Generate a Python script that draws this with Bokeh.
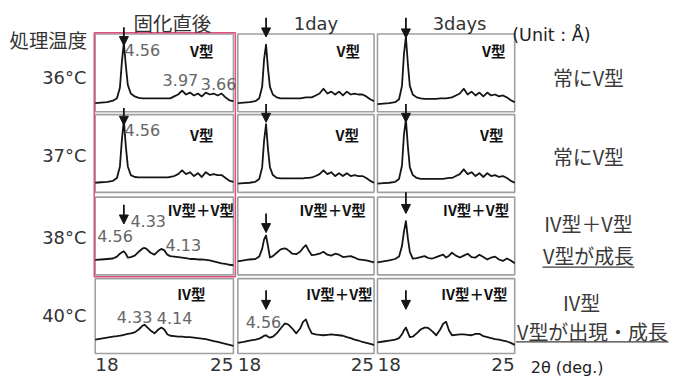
import math
from bokeh.plotting import figure
from bokeh.models import Range1d, Arrow, NormalHead
from bokeh.core.properties import value
from bokeh.embed import file_html
from bokeh.resources import INLINE

# ---------------- data ----------------
two_theta = [18.0, 18.3, 18.6, 18.9, 19.1, 19.25, 19.35, 19.45, 19.55, 19.65, 19.8,
             20.0, 20.2, 20.4, 20.5, 20.6, 20.8, 21.0, 21.2, 21.35, 21.5, 21.65, 21.8,
             22.0, 22.2, 22.4, 22.6, 22.8, 23.0, 23.2, 23.4, 23.6, 23.8,
             24.0, 24.2, 24.4, 24.6, 24.8, 25.0]

# intensity (a.u.) — 36 °C
int_36_0 = [9, 9.5, 10, 11.5, 14, 25, 52, 72, 48, 28, 19, 16, 14.5, 14, 14, 14, 14, 14, 14, 14, 14, 14, 14,
            16, 18, 22, 18, 20, 17, 19, 16, 20, 18, 19, 17, 19, 15, 12, 11]
int_36_1 = [9, 9.5, 10, 11, 14, 26, 55, 70, 45, 26, 18, 15, 14, 14, 14, 14, 14, 14, 14, 14.5, 15, 15, 15,
            17, 19, 24, 19, 21, 18, 21, 17, 21, 18, 19, 18, 18, 16, 13, 11]
int_36_3 = [8, 8.5, 9, 10, 13, 27, 60, 78, 50, 27, 18, 15, 14, 13.5, 13.5, 13.5, 13.5, 13.5, 14, 14, 14, 14.5, 15,
            17, 19, 24, 18, 21, 17, 20, 16, 20, 17, 18, 16, 17, 15, 12, 10]
# 37 °C
int_37_0 = [10, 10.5, 11, 12, 15, 27, 55, 75, 48, 27, 18, 16, 15.5, 15.5, 15.5, 15.5, 15.5, 15.5, 15.5, 15.5, 15.5, 15.5, 16,
            17, 19, 23, 19, 21, 17, 20, 16, 21, 18, 19, 18, 18, 15, 12, 11]
int_37_1 = [9, 9.5, 10, 11, 14, 26, 54, 71, 45, 26, 18, 15, 14.5, 14.5, 14.5, 14.5, 14.5, 14.5, 14.5, 14.5, 15, 15, 15.5,
            17, 19, 23, 19, 21, 17, 20, 17, 20, 17, 18, 17, 17, 15, 12, 10]
int_37_3 = [9, 9.5, 10, 11, 14, 28, 60, 76, 48, 26, 18, 15, 14, 14, 14, 14, 14, 14, 14, 14, 14.5, 15, 15,
            17, 19, 24, 19, 21, 17, 20, 16, 20, 17, 18, 16, 17, 15, 12, 10]
# 38 °C
int_38_0 = [15.5, 16, 16.5, 17, 19, 22, 23.5, 24.5, 22, 18, 18.5, 20, 24, 27.5, 28, 27, 23, 21, 25, 27, 25.5, 21, 19.5,
            19, 18.5, 18, 17.5, 16.5, 16.5, 16, 16, 15.5, 15, 14, 13, 12, 11.5, 10.5, 10]
int_38_1 = [14, 15, 16, 16.5, 19, 27, 37, 41, 30, 18, 19.5, 23, 26.5, 27.5, 27, 25.5, 22, 21.5, 24, 28, 31, 25, 20.5,
            21, 22, 24, 21, 20, 22, 21, 18.5, 19, 19.5, 18, 16, 15.5, 15, 14, 13]
int_38_3 = [13, 14, 15, 16.5, 19, 30, 45, 56, 38, 24, 17, 17.5, 18.5, 19.5, 18.5, 17.5, 17, 18.5, 20, 21, 18, 20, 23,
            20, 18, 20, 22, 18.5, 18, 21, 18.5, 16, 18, 19, 16, 14.5, 17, 15, 12]
# 40 °C
int_40_0 = [14.5, 15.5, 16.5, 17.5, 18, 18.5, 19, 19.5, 20, 20.5, 21, 22, 25, 29, 30, 28, 24, 21, 25, 27, 25, 20, 18.5,
            18, 17.5, 17.5, 17, 17, 16.5, 16, 15.5, 15, 14, 13, 12, 11, 10, 9, 8]
int_40_1 = [11, 12, 13.5, 14.5, 15.5, 17, 18.5, 19, 17.5, 16.5, 17.5, 21, 26, 31, 31, 30, 26, 21, 26, 33, 35.5, 27, 21,
            20, 19.5, 19, 19.5, 20, 19.5, 19, 18.5, 17, 16, 14.5, 13.5, 12, 11, 10, 9]
int_40_3 = [11.5, 12.5, 13.5, 14.5, 16, 20, 24, 27, 22, 17, 17.5, 21, 25, 27, 27, 26.5, 23, 19, 25, 31, 33, 24, 19,
            19.5, 20, 20, 19.5, 19, 20.5, 20.5, 18, 17, 16, 15, 14.5, 13.5, 12.5, 11, 9]

patterns = [[int_36_0, int_36_1, int_36_3],
            [int_37_0, int_37_1, int_37_3],
            [int_38_0, int_38_1, int_38_3],
            [int_40_0, int_40_1, int_40_3]]

row_labels = ["36°C", "37°C", "38°C", "40°C"]
col_labels = ["固化直後", "1day", "3days"]
phase_labels = [["V型", "V型", "V型"],
                ["V型", "V型", "V型"],
                ["IV型＋V型", "IV型＋V型", "IV型＋V型"],
                ["IV型", "IV型＋V型", "IV型＋V型"]]
summary_labels = [["常にV型"], ["常にV型"], ["IV型＋V型", "V型が成長"], ["IV型", "V型が出現・成長"]]
tick_values = [18, 25]
v_peak_d = 4.56        # Å, marked with arrows
cu_wavelength = 1.5406  # Å
arrow_panels = [(0, 0), (0, 1), (0, 2), (1, 0), (1, 1), (1, 2),
                (2, 0), (2, 1), (2, 2), (3, 1), (3, 2)]
peak_labels = {(0, 0): ["4.56", "3.97", "3.66"],
               (1, 0): ["4.56"],
               (2, 0): ["4.33", "4.56", "4.13"],
               (3, 0): ["4.33", "4.14"],
               (3, 1): ["4.56"]}

# ---------------- layout ----------------
W, H = 669, 376
REF_W, REF_H = 685, 392
FS = 0.97
JP = "Noto Sans CJK JP"
LAT = "DejaVu Sans"


def fs(n):
    return value(f"{n * FS:.1f}px")


col_x = [(97, 238.5), (243, 382.5), (386, 526.5)]
row_y = [(35, 116), (119, 200), (205, 286), (290, 368)]

p = figure(width=W, height=H, x_range=Range1d(0, REF_W), y_range=Range1d(REF_H, 0),
           output_backend="svg", toolbar_location=None, min_border=0,
           x_axis_location=None, y_axis_location=None)
p.grid.visible = False
p.outline_line_color = None
p.background_fill_color = "white"
p.border_fill_color = "white"

xr, yr = {}, {}
x0, x1 = tick_values
for c, (L, R) in enumerate(col_x):
    k = (x1 - x0) / (R - L)
    xr[f"c{c}"] = Range1d(x0 - L * k, x1 + (REF_W - R) * k)
for r, (T, B) in enumerate(row_y):
    yr[f"r{r}"] = Range1d(B - REF_H, B)
p.extra_x_ranges = xr
p.extra_y_ranges = yr

CURVE = "#151515"
FRAME = "#a0a0a0"

# panels: frames and curves
for r in range(4):
    T, B = row_y[r]
    for c in range(3):
        kw = dict(x_range_name=f"c{c}", y_range_name=f"r{r}")
        p.quad(left=x0, right=x1, bottom=0, top=B - T, fill_color=None,
               line_color=FRAME, line_width=1.6, **kw)
        p.line(two_theta, patterns[r][c], line_color=CURVE, line_width=1.8,
               line_join="round", **kw)

# red box round the first column (rows 1-3)
p.quad(left=96, right=240.5, top=33.5, bottom=288, fill_color=None,
       line_color="#e0507c", line_width=1.5)

# arrows at the V-form 4.56 Å peak
arrow_x = 2 * math.degrees(math.asin(cu_wavelength / (2 * v_peak_d)))
arrow_y = {(0, 0): (88, 69), (0, 1): (98, 78), (0, 2): (98, 77),
           (1, 0): (88, 70), (1, 1): (92, 73), (1, 2): (92, 73),
           (2, 0): (73, 53), (2, 1): (64, 44), (2, 2): (86, 64),
           (3, 1): (66, 46), (3, 2): (66, 46)}
for (r, c) in arrow_panels:
    ys, ye = arrow_y[(r, c)]
    p.add_layout(Arrow(end=NormalHead(size=9, fill_color=CURVE, line_color=CURVE, line_width=1),
                       x_start=arrow_x, y_start=ys, x_end=arrow_x, y_end=ye,
                       line_color=CURVE, line_width=1.8,
                       x_range_name=f"c{c}", y_range_name=f"r{r}"))

# peak labels (d spacing, Å)
peak_pos = {(0, 0): [(127, 52), (166, 83), (205, 87)],
            (1, 0): [(127, 135)],
            (2, 0): [(133, 229.5), (99, 245.5), (169, 254.5)],
            (3, 0): [(119, 329.5), (160, 331)],
            (3, 1): [(251, 335)]}
px, py, pt = [], [], []
for key, labels in peak_labels.items():
    for t, (x, y) in zip(labels, peak_pos[key]):
        px.append(x); py.append(y); pt.append(t)
p.text(x=px, y=py, text=pt, text_font=value(LAT), text_font_size=fs(16.5),
       text_color="#666666", text_align="left", text_baseline="middle")

# phase labels in panels
phase_pos = [[(218, 52), (368, 52), (517, 52)],
             [(218, 140), (367, 140), (515, 140)],
             [(239, 218), (374, 218), (521, 218)],
             [(210, 305), (381, 305), (519, 305)]]
fx, fy, ft = [], [], []
for r in range(4):
    for c in range(3):
        fx.append(phase_pos[r][c][0]); fy.append(phase_pos[r][c][1]); ft.append(phase_labels[r][c])
p.text(x=fx, y=fy, text=ft, text_font=value(JP), text_font_size=fs(15), text_font_style="bold",
       text_color="#111111", text_align="right", text_baseline="middle")

# column headers
p.text(x=[176], y=[23], text=[col_labels[0]], text_font=value(JP), text_font_size=fs(20),
       text_color="#333333", text_align="center", text_baseline="middle")
p.text(x=[323, 470], y=[24, 24], text=col_labels[1:], text_font=value(LAT), text_font_size=fs(18.5),
       text_color="#333333", text_align="center", text_baseline="middle")
p.text(x=[524], y=[36], text=["(Unit : Å)"], text_font=value(LAT), text_font_size=fs(18),
       text_color="#222222", text_align="left", text_baseline="middle")

# row headers
p.text(x=[49], y=[41], text=["処理温度"], text_font=value(JP), text_font_size=fs(20),
       text_color="#333333", text_align="center", text_baseline="middle")
p.text(x=[88] * 4, y=[80, 162, 247, 328], text=row_labels, text_font=value(LAT), text_font_size=fs(18.5),
       text_color="#333333", text_align="right", text_baseline="middle")

# summaries on the right
sum_pos = [[(602, 80)], [(602, 163)], [(602, 232), (602, 266)], [(595, 315), (606, 345)]]
sx, sy, st = [], [], []
for r in range(4):
    for t, (x, y) in zip(summary_labels[r], sum_pos[r]):
        sx.append(x); sy.append(y); st.append(t)
p.text(x=sx, y=sy, text=st, text_font=value(JP), text_font_size=fs(20.5),
       text_color="#3a3a3a", text_align="center", text_baseline="middle")
p.segment(x0=[555, 528], y0=[278, 356], x1=[649, 684], y1=[278, 356], line_color="#3a3a3a", line_width=1.3)

# x tick labels under the bottom row
for c in range(3):
    kw = dict(x_range_name=f"c{c}")
    p.text(x=[tick_values[0]], y=[380], text=[str(tick_values[0])], text_font=value(LAT),
           text_font_size=fs(19), text_color="#333333", text_align="left", text_baseline="middle", **kw)
    p.text(x=[tick_values[1]], y=[380], text=[str(tick_values[1])], text_font=value(LAT),
           text_font_size=fs(19), text_color="#333333", text_align="right", text_baseline="middle", **kw)
p.text(x=[543], y=[383], text=["2θ (deg.)"], text_font=value(LAT), text_font_size=fs(16.5),
       text_color="#222222", text_align="left", text_baseline="middle")

open("out.html", "w").write(file_html(p, INLINE))
